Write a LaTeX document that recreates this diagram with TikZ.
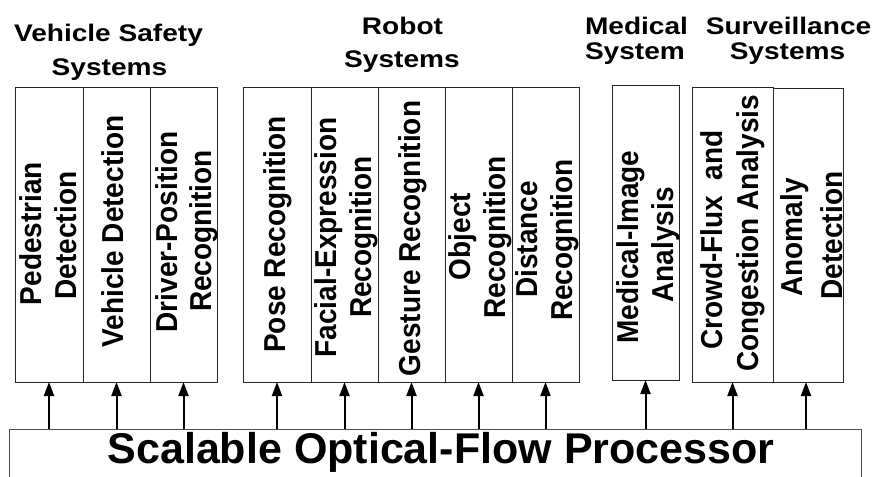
\documentclass[tikz,border=0pt]{standalone}
\usepackage{fontspec}
\setmainfont{Liberation Sans}
\usepackage{graphicx}
\usetikzlibrary{arrows.meta}

% Pixel-like coordinates: x to the right, y downwards, 1 unit = 1pt
\tikzset{
  x=1pt, y=-1pt,
  cell/.style={draw=black!85, line width=0.9pt, inner sep=0pt, outer sep=0pt, fill=white},
  vtext/.style={rotate=90, anchor=base, inner sep=0pt, outer sep=0pt,
                font=\fontsize{28}{33}\selectfont\bfseries},
  grouptitle/.style={anchor=base, inner sep=0pt, outer sep=0pt,
                font=\fontsize{24}{28}\selectfont\bfseries},
  feed/.style={line width=2pt, -{Triangle[length=14pt,width=10pt]}},
}
% slightly widened lettering used throughout the figure
\newcommand{\vlab}[1]{\scalebox{1}[1.08]{#1}}
\newcommand{\hlab}[1]{\scalebox{1.17}[1]{#1}}

\begin{document}
\begin{tikzpicture}
\clip (0,0) rectangle (877,476);
\fill[white] (0,0) rectangle (877,476);

% ---- group titles ----
\node[grouptitle] (vs1) at (108.5,42) {\hlab{Vehicle Safety}};
\node[grouptitle] (vs2) at (109.5,76) {\hlab{Systems}};
\node[grouptitle] (rb1) at (402.5,35) {\hlab{Robot}};
\node[grouptitle] (rb2) at (402,68) {\hlab{Systems}};
\node[grouptitle, anchor=base west] (md1) at (585,35) {\hlab{Medical}};
\node[grouptitle, anchor=base west] (md2) at (585,60) {\hlab{System}};
\node[grouptitle] (sv1) at (788.5,35) {\hlab{Surveillance}};
\node[grouptitle] (sv2) at (787.5,60) {\hlab{Systems}};

% ---- application boxes ----
\node[cell, minimum width=68pt, minimum height=295pt] (ped)   at (49,234.5) {};
\node[cell, minimum width=67pt, minimum height=295pt] (veh)   at (116.5,234.5) {};
\node[cell, minimum width=67pt, minimum height=295pt] (drv)   at (183.5,234.5) {};
\node[cell, minimum width=68pt, minimum height=295pt] (pose)  at (277,234.5) {};
\node[cell, minimum width=67pt, minimum height=295pt] (face)  at (344.5,234.5) {};
\node[cell, minimum width=67pt, minimum height=295pt] (gest)  at (411.5,234.5) {};
\node[cell, minimum width=67pt, minimum height=295pt] (obj)   at (478.5,234.5) {};
\node[cell, minimum width=67pt, minimum height=295pt] (dist)  at (545.5,234.5) {};
\node[cell, minimum width=67pt, minimum height=295pt] (med)   at (645.5,232.5) {};
\node[cell, minimum width=81pt, minimum height=295pt] (crowd) at (732.5,234.5) {};
\node[cell, minimum width=70pt, minimum height=294pt] (anom)  at (808,235) {};

% ---- rotated box labels (one node per line) ----
\node[vtext] (ped1)   at (41,233.5)  {\vlab{Pedestrian}};
\node[vtext] (ped2)   at (76,235.5)  {\vlab{Detection}};
\node[vtext] (veh1)   at (123,231.5) {\vlab{Vehicle Detection}};
\node[vtext] (drv1)   at (177,232)   {\vlab{Driver-Position}};
\node[vtext] (drv2)   at (211,231)   {\vlab{Recognition}};
\node[vtext] (pose1)  at (285,234.5) {\vlab{Pose Recognition}};
\node[vtext] (face1)  at (336.5,237.5) {\vlab{Facial-Expression}};
\node[vtext] (face2)  at (371,237)   {\vlab{Recognition}};
\node[vtext] (gest1)  at (420,238.5) {\vlab{Gesture Recognition}};
\node[vtext] (obj1)   at (470,236.5) {\vlab{Object}};
\node[vtext] (obj2)   at (505,237.5) {\vlab{Recognition}};
\node[vtext] (dist1)  at (537,239.5) {\vlab{Distance}};
\node[vtext] (dist2)  at (572,240)   {\vlab{Recognition}};
\node[vtext] (med1)   at (638,247)   {\vlab{Medical-Image}};
\node[vtext] (med2)   at (673,245)   {\vlab{Analysis}};
\node[vtext] (crowd1) at (722,240)   {\vlab{Crowd-Flux~ and}};
\node[vtext] (crowd2) at (758,233.5) {\vlab{Congestion Analysis}};
\node[vtext] (anom1)  at (802,237.5) {\vlab{Anomaly}};
\node[vtext] (anom2)  at (842,235.5) {\vlab{Detection}};

% ---- processor ----
\node[cell, draw=black!70, minimum width=852pt, minimum height=71pt] (proc) at (435,464.5) {};
\node[anchor=base, inner sep=0pt, font=\fontsize{43}{50}\selectfont\bfseries] (proclabel)
  at (441,463) {Scalable Optical-Flow Processor};

% ---- feeds from the processor to each application ----
\foreach \b in {ped,veh,drv,pose,face,gest,obj,dist,med,crowd}
  \draw[feed] (\b.south |- proc.north) -- (\b.south);
\coordinate (anomfeed) at (806,382);
\draw[feed] (anomfeed |- proc.north) -- (anomfeed);
\end{tikzpicture}
\end{document}
